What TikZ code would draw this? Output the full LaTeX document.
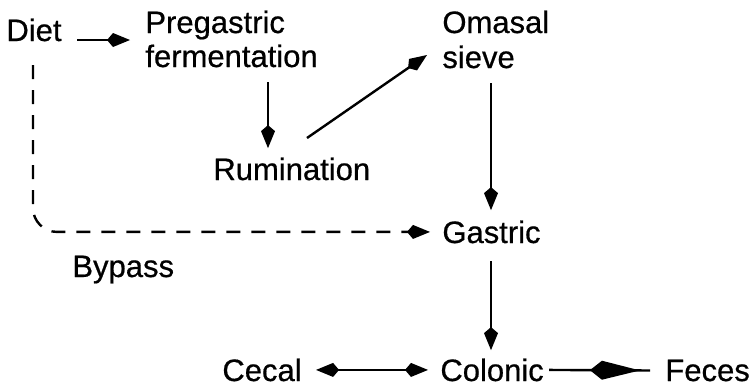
\documentclass[tikz,border=0pt]{standalone}
\usepackage{fontspec}
\setmainfont[FakeBold=0.6]{Liberation Sans}
\usetikzlibrary{arrows.meta,calc,decorations.markings}
\begin{document}
\begin{tikzpicture}[x=0.5pt,y=-0.5pt,
  lbl/.style={inner sep=0pt, anchor=base west, font=\fontsize{15.5}{18}\selectfont},
  tipk/.tip={Kite[length=11.5pt,width=7pt,inset=3pt]},
  conn/.style={line width=1.2pt},
  arr/.style={conn, -tipk},
  dbl/.style={conn, tipk-tipk},
  dashline/.style={dash pattern=on 7pt off 5.5pt},
  midhead/.style={postaction={decorate}, decoration={markings,
     mark=at position 0.9 with {\arrow{Kite[length=25pt,width=9.5pt,inset=6pt]}}}}
]
\useasboundingbox (0,0) rectangle (755,387);
% texts
\node[lbl] (diet) at (6,41) {Diet};
\node[lbl] (preg1) at (145,33) {Pregastric};
\node[lbl] (preg2) at (145,67) {fermentation};
\node[lbl] (oma1) at (442,33) {Omasal};
\node[lbl] (oma2) at (442,68) {sieve};
\node[lbl] (rum) at (213,180) {Rumination};
\node[lbl] (gas) at (442,243) {Gastric};
\node[lbl] (bypass) at (72,277) {Bypass};
\node[lbl] (cecal) at (222,381) {Cecal};
\node[lbl] (colonic) at (440,381) {Colonic};
\node[lbl] (feces) at (665,381) {Feces};
% connector end points
\coordinate (d0) at ($(diet.base west)+(71,-1)$);
\coordinate (p0) at ($(preg2.base west)+(123,15)$);
\coordinate (r0) at ($(rum.base west)+(94,-42)$);
\coordinate (o0) at ($(oma2.base west)+(-15,-13)$);
\coordinate (o1) at ($(oma2.base west)+(49,15)$);
\coordinate (g1) at ($(gas.base west)+(49,18)$);
\coordinate (b0) at ($(diet.base west)+(27,24)$);
\coordinate (cf0) at ($(colonic.east)+(5,0)$);
\coordinate (cf1) at ($(feces.west)+(-15,0)$);
% connectors
\draw[arr, shorten >=7.5pt] (d0) -- (d0 -| preg1.west);
\draw[arr, shorten >=4.5pt] (p0) -- (p0 |- rum.north);
\draw[arr] (r0) -- (o0);
\draw[arr, shorten >=5pt] (o1) -- (o1 |- gas.north);
\draw[arr, shorten >=4pt] (g1) -- (g1 |- colonic.north);
\draw[arr, dashline, rounded corners=12pt, shorten >=6pt] (b0) |- (gas.west);
\draw[dbl, shorten <=7pt, shorten >=6pt] (cecal.east) -- (colonic.west);
\draw[conn, midhead] (cf0) -- (cf1);
\end{tikzpicture}
\end{document}
